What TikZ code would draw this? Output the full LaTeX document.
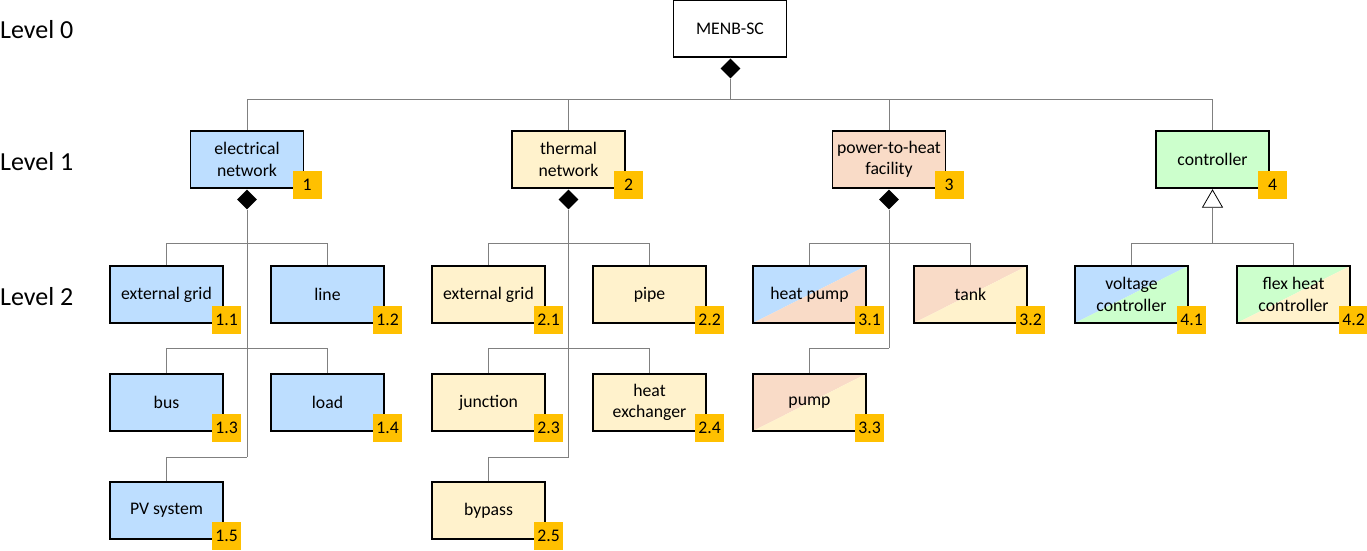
\documentclass[tikz,border=0pt]{standalone}
\usepackage{fontspec}
\setmainfont{Carlito}
\usetikzlibrary{shapes.geometric}
\definecolor{blu}{RGB}{189,222,255}
\definecolor{pch}{RGB}{249,219,199}
\definecolor{ylw}{RGB}{255,242,204}
\definecolor{grn}{RGB}{204,255,204}
\definecolor{gold}{RGB}{255,192,0}
\definecolor{conngray}{RGB}{128,128,128}
\newcommand\badgeat[2]{\node[badge,anchor=south east] (#1b) at ([xshift=17.5pt,yshift=-10.5pt]#1.south east) {#2};}
\begin{document}
\begin{tikzpicture}[x=1pt,y=-1pt,
  comp/.style={draw=black,line width=1.6pt,minimum width=113pt,minimum height=57pt,inner sep=0pt,align=center,
    font=\fontsize{17.7}{21.5}\selectfont},
  split/.style 2 args={path picture={
    \fill[#1] (path picture bounding box.north west) -- (path picture bounding box.north east) -- (path picture bounding box.south west) -- cycle;
    \fill[#2] (path picture bounding box.north east) -- (path picture bounding box.south east) -- (path picture bounding box.south west) -- cycle;}},
  badge/.style={fill=gold,minimum width=29pt,minimum height=28pt,inner sep=0pt,font=\fontsize{17.7}{21.5}\selectfont},
  dia/.style={shape=diamond,fill=black,minimum width=20pt,minimum height=20pt,inner sep=0pt},
  tri/.style={shape=regular polygon,regular polygon sides=3,draw=black,line width=0.8pt,fill=white,minimum size=23pt,inner sep=0pt},
  conn/.style={draw=conngray,line width=1pt},
  lvl/.style={anchor=base west,inner sep=0pt,font=\fontsize{26}{30}\selectfont}]
\useasboundingbox (0,0) rectangle (1367,551);
% level labels
\node[lvl] (l0) at (0,38.3) {Level 0};
\node[lvl] (l1) at (0,170) {Level 1};
\node[lvl] (l2) at (0,305) {Level 2};
% root
\node[comp,fill=white] (root) at (730,28.5) {MENB-SC};
\node[dia] (d0) at (730.5,68.5) {};
\coordinate (h0) at (730.5,99);
% level 1
\node[comp,fill=blu] (en) at (247,159.5) {electrical\\network};
\node[comp,fill=ylw] (tn) at (568.5,159.5) {thermal\\network};
\node[comp,fill=pch] (ph) at (889,159.5) {power-to-heat\\facility};
\node[comp,fill=grn] (ct) at (1212.5,159.5) {controller};
\badgeat{en}{1}
\badgeat{tn}{2}
\badgeat{ph}{3}
\badgeat{ct}{4}
\node[dia] (d1) at (247,199.5) {};
\node[dia] (d2) at (568.5,199.5) {};
\node[dia] (d3) at (889,199.5) {};
\node[tri] (t4) at (1212.5,201.5) {};
% level 2, electrical
\node[comp,fill=blu] (e1) at (166.5,294.5) {external grid};
\node[comp,fill=blu] (e2) at (327.5,294.5) {line};
\node[comp,fill=blu] (e3) at (166.5,402.5) {bus};
\node[comp,fill=blu] (e4) at (327.5,402.5) {load};
\node[comp,fill=blu] (e5) at (166.5,510.5) {PV system};
% thermal
\node[comp,fill=ylw] (t1) at (488.5,294.5) {external grid};
\node[comp,fill=ylw] (t2) at (649.5,294.5) {pipe};
\node[comp,fill=ylw] (t3) at (488.5,402.5) {junction};
\node[comp,fill=ylw] (t4x) at (649.5,402.5) {heat\\exchanger};
\node[comp,fill=ylw] (t5) at (488.5,510.5) {bypass};
% power-to-heat
\node[comp,split={blu}{pch}] (p1) at (809.5,294.5) {heat pump};
\node[comp,split={pch}{ylw}] (p2) at (970.5,294.5) {tank};
\node[comp,split={pch}{ylw}] (p3) at (809.5,402.5) {pump};
% controller
\node[comp,split={blu}{grn}] (c1) at (1131.5,294.5) {voltage\\controller};
\node[comp,split={grn}{ylw}] (c2) at (1293.5,294.5) {flex heat\\controller};
\badgeat{e1}{1.1}
\badgeat{e2}{1.2}
\badgeat{e3}{1.3}
\badgeat{e4}{1.4}
\badgeat{e5}{1.5}
\badgeat{t1}{2.1}
\badgeat{t2}{2.2}
\badgeat{t3}{2.3}
\badgeat{t4x}{2.4}
\badgeat{t5}{2.5}
\badgeat{p1}{3.1}
\badgeat{p2}{3.2}
\badgeat{p3}{3.3}
\badgeat{c1}{4.1}
\badgeat{c2}{4.2}
% junction coordinates
\coordinate (ea) at (247,243);
\coordinate (eb) at (247,348);
\coordinate (ec) at (247,457);
\coordinate (ta) at (568.5,243);
\coordinate (tb) at (568.5,348);
\coordinate (tc) at (568.5,457);
\coordinate (pa) at (889,243);
\coordinate (pb) at (889,348);
\coordinate (ca) at (1212.5,243);
% connectors
\draw[conn] (root.south) -- (d0.north);
\draw[conn] (d0.south) -- (h0);
\draw[conn] (en.north) |- (h0);
\draw[conn] (tn.north) |- (h0);
\draw[conn] (ph.north) |- (h0);
\draw[conn] (ct.north) |- (h0);
\draw[conn] (d1.south) -- (ec);
\draw[conn] (e1.north) |- (ea);
\draw[conn] (e2.north) |- (ea);
\draw[conn] (e3.north) |- (eb);
\draw[conn] (e4.north) |- (eb);
\draw[conn] (e5.north) |- (ec);
\draw[conn] (d2.south) -- (tc);
\draw[conn] (t1.north) |- (ta);
\draw[conn] (t2.north) |- (ta);
\draw[conn] (t3.north) |- (tb);
\draw[conn] (t4x.north) |- (tb);
\draw[conn] (t5.north) |- (tc);
\draw[conn] (d3.south) -- (pb);
\draw[conn] (p1.north) |- (pa);
\draw[conn] (p2.north) |- (pa);
\draw[conn] (p3.north) |- (pb);
\draw[conn] (t4.south) -- (ca);
\draw[conn] (c1.north) |- (ca);
\draw[conn] (c2.north) |- (ca);
\end{tikzpicture}
\end{document}
